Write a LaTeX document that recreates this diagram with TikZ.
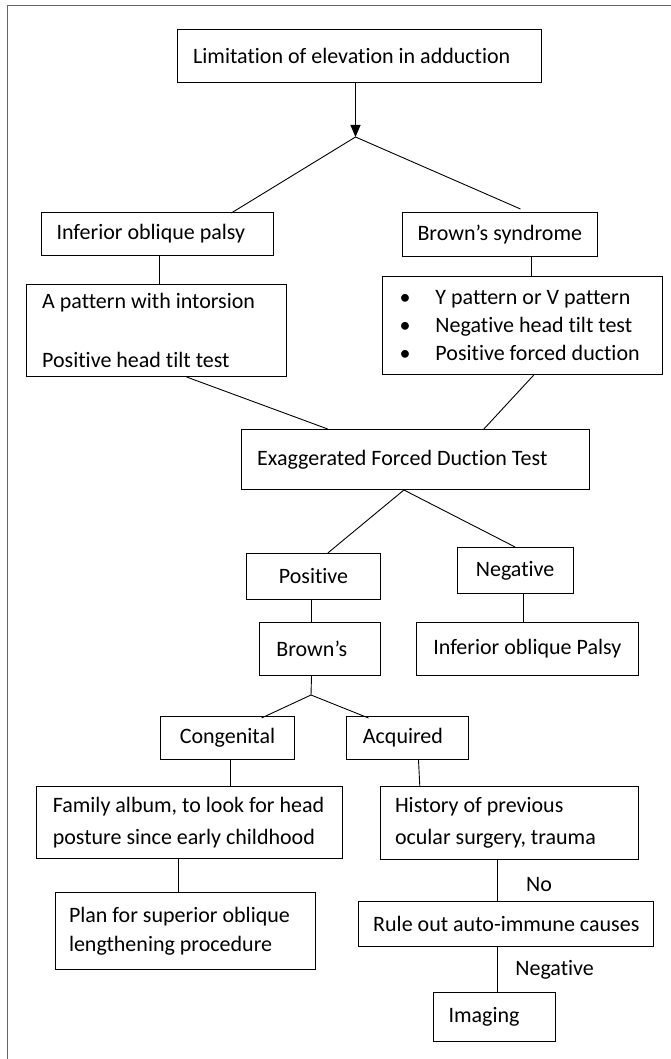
\documentclass[tikz,border=0pt]{standalone}
\usepackage{fontspec}
\setmainfont{Carlito}[Ligatures=NoCommon]
\usetikzlibrary{arrows.meta}

\tikzset{
	box/.style = {draw, line width=1pt, anchor=north west, align=flush left, inner xsep=0pt, inner ysep=0pt,
		font=\fontsize{22}{24}\selectfont},
	cbox/.style = {box, align=center},
	% width, height, left padding
	sz/.style n args = {3}{minimum width=#1pt, minimum height=#2pt, text width=#1pt,
		execute at begin node={\leftskip=#3pt}},
	link/.style = {line width=0.9pt},
	lbl/.style = {font=\fontsize{22}{24}\selectfont}
}

\begin{document}
\begin{tikzpicture}[x=1pt, y=-1pt]
		\useasboundingbox (0,0) rectangle (671,1059);
		\draw [gray!80!black, line width=1.5pt] (7.5,1059) -- (7.5,5.5) -- (671,5.5);

		\node [box, sz={363.4}{53}{15.4}] (lim) at (177.3,29) {Limitation of elevation in adduction\\[-4pt]};
		\coordinate (a1) at (355.5,137);

		\node [box, sz={232}{43}{15}] (iop) at (41,212) {Inferior oblique palsy};
		\node [box, sz={195}{44}{15}] (brs) at (402,212) {Brown’s syndrome};

		\node [box, sz={260}{92}{16}, font=\fontsize{22}{29.5}\selectfont] (apat) at (25.7,284)
			{A pattern with intorsion\\[29.5pt]Positive head tilt test};
		\node [box, sz={280}{98}{16.7}, font=\fontsize{22}{27.7}\selectfont] (bul) at (382.3,276)
			{\makebox[36pt][l]{\textbullet}Y pattern or V pattern\\
			 \makebox[36pt][l]{\textbullet}Negative head tilt test\\
			 \makebox[36pt][l]{\textbullet}Positive forced duction};

		\node [box, sz={348}{60}{15.7}] (efdt) at (241,429) {Exaggerated Forced Duction Test\\[-8pt]};

		\node [cbox, minimum width=134pt, minimum height=46pt] (pos) at (246,553) {Positive};
		\node [cbox, minimum width=116pt, minimum height=46pt] (neg) at (456.6,547) {Negative};
		\node [box, sz={121}{53}{17}] (brn) at (258.9,622) {Brown’s};
		\node [cbox, minimum width=221.6pt, minimum height=53pt] (iopb) at (416,622) {Inferior oblique Palsy};
		\coordinate (j1) at (311,695);

		\node [cbox, minimum width=134.8pt, minimum height=43pt] (con) at (159.6,716) {Congenital};
		\node [box, sz={122}{43}{16.7}] (acq) at (345.7,716) {Acquired};

		\node [box, sz={306}{72}{15.9}, font=\fontsize{22}{32}\selectfont] (fam) at (36.4,786)
			{Family album, to look for head\\posture since early childhood};
		\node [box, sz={258}{73}{15}, font=\fontsize{22}{32}\selectfont] (his) at (379.5,786)
			{History of previous\\ocular surgery, trauma};

		\node [box, sz={260.6}{77}{13.7}, font=\fontsize{22}{29}\selectfont] (plan) at (54.8,892)
			{Plan for superior oblique\\lengthening procedure};
		\node [cbox, minimum width=295.2pt, minimum height=45pt] (rule) at (358.2,901) {Rule out auto-immune causes};
		\node [box, sz={122.4}{49}{15}] (img) at (433,992) {Imaging};

		\node [lbl] (lblno) at (539,885) {No};
		\node [lbl] (lblneg) at (554.6,970) {Negative};

		% connectors
		\draw [link, -{Triangle[length=12pt, width=10pt]}] (a1 |- lim.south) -- (a1);
		\draw [link] ([xshift=73.8pt, yshift=-1pt]iop.north) -- (a1) -- ([xshift=20.5pt, yshift=3pt]brs.north);
		\draw [link] ([xshift=2.4pt]iop.south) -- ([xshift=2.4pt]iop.south |- apat.north);
		\draw [link] ([xshift=31.5pt]brs.south) -- ([xshift=31.5pt]brs.south |- bul.north);
		\draw [link] ([xshift=30.4pt]apat.south) -- ([xshift=-87.8pt]efdt.north);
		\draw [link] ([xshift=11pt]bul.south) -- ([xshift=68.4pt]efdt.north);
		\draw [link] ([xshift=14.3pt]pos.north) -- ([xshift=-11.6pt]efdt.south) -- (neg.north);
		\draw [link] ([xshift=-2pt]pos.south) -- ([xshift=-2pt]pos.south |- brn.north);
		\draw [link] ([xshift=8.4pt]neg.south) -- ([xshift=8.4pt]neg.south |- iopb.north);
		\draw [link] ([xshift=-8.4pt]brn.south) -- (j1);
		\draw [link] ([xshift=34pt, yshift=-2pt]con.north) -- (j1) -- ([xshift=-38.7pt, yshift=-2pt]acq.north);
		\draw [link] ([xshift=3.2pt]con.south) -- ([xshift=3.2pt]con.south |- fam.north);
		\draw [link] ([xshift=11.3pt]acq.south) -- ([xshift=-89.2pt]his.north);
		\draw [link] ([xshift=-11pt]fam.south) -- ([xshift=-11pt]fam.south |- plan.north);
		\draw [link] ([xshift=-11.3pt]his.south) -- ([xshift=-11.3pt]his.south |- rule.north);
		\draw [link] ([xshift=-8.6pt]rule.south) -- ([xshift=-8.6pt]rule.south |- img.north);
	\end{tikzpicture}
\end{document}
